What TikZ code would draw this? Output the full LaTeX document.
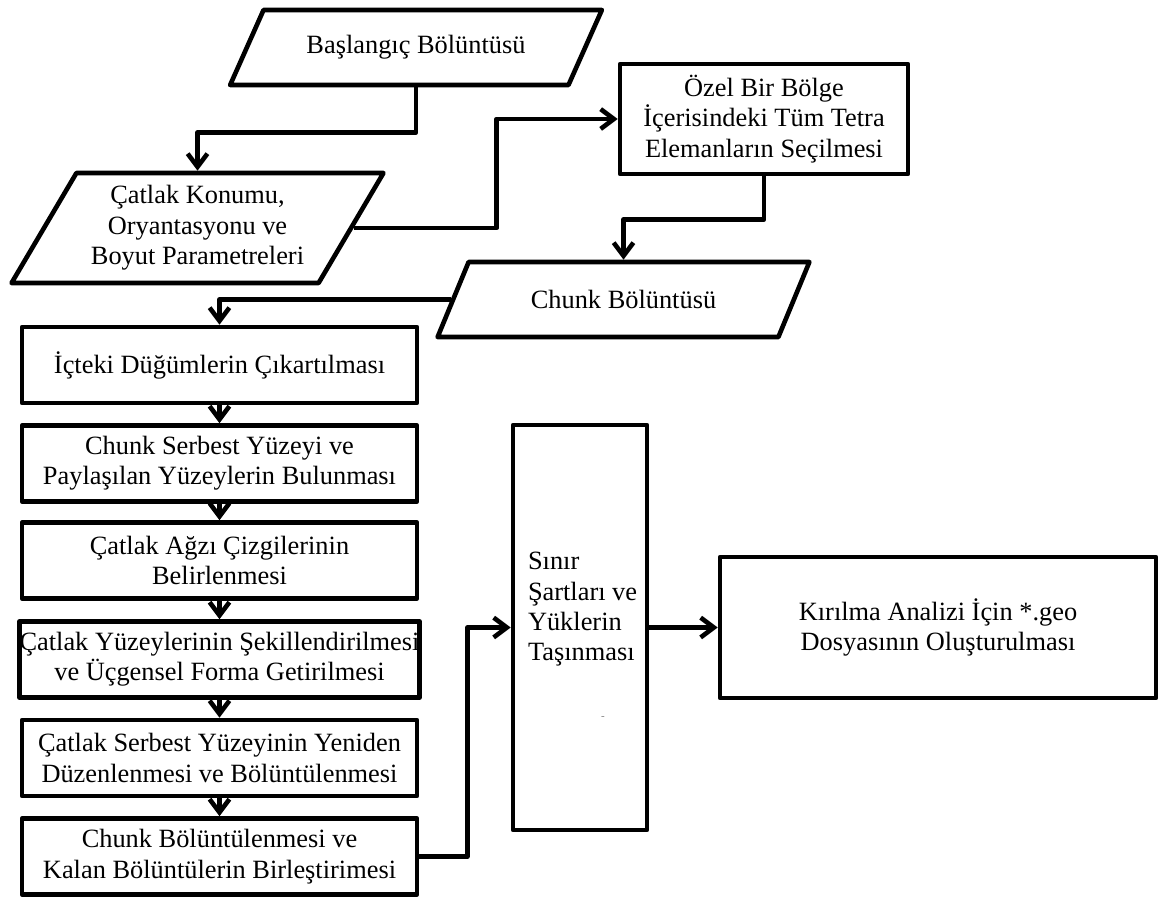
\documentclass[tikz,border=0pt]{standalone}
\usepackage{fontspec}
\setmainfont{Liberation Serif}
\usetikzlibrary{shapes.geometric, arrows.meta}

% one unit = one pixel of the layout grid
\def\u{0.455pt}

\begin{document}
\begin{tikzpicture}[
  x=\u, y=-\u,
  font=\fontsize{12}{13.8}\selectfont,
  line width=2.1pt, line join=round,
  box/.style={rectangle, draw, align=center, inner sep=0pt, minimum width=395*\u, minimum height=76*\u},
  io/.style={trapezium, trapezium left angle=45, trapezium right angle=135, trapezium stretches=true,
             draw, align=center, inner sep=0pt, minimum width=372*\u, minimum height=75*\u},
  arrow/.style={-{Straight Barb[length=6pt, width=9pt]}},
]
\useasboundingbox (0,0) rectangle (1158,898);

% ══ Column positions ══
\def\xl{219.5}

% ══ Input data ══
\node[io] (start) at (416,47.5) {Başlangıç Bölüntüsü};
\node[io, trapezium left angle=56, trapezium right angle=124, minimum height=110*\u] (crack) at (197.5,228)
  {Çatlak Konumu,\\Oryantasyonu ve\\Boyut Parametreleri};
\node[box, minimum width=288*\u, minimum height=110*\u] (region) at (764,119)
  {Özel Bir Bölge\\İçerisindeki Tüm Tetra\\Elemanların Seçilmesi};
\node[io] (chunk) at (623.5,299.5) {Chunk Bölüntüsü};

% ══ Main steps (left column) ══
\node[box] (inner)  at (\xl,365)   {İçteki Düğümlerin Çıkartılması};
\node[box] (surf)   at (\xl,463.5) {Chunk Serbest Yüzeyi ve\\Paylaşılan Yüzeylerin Bulunması};
\node[box] (mouth)  at (\xl,560.5) {Çatlak Ağzı Çizgilerinin\\Belirlenmesi};
\node[box] (shape)  at (\xl,659.5) {Çatlak Yüzeylerinin Şekillendirilmesi\\ve Üçgensel Forma Getirilmesi};
\node[box] (remesh) at (\xl,758)   {Çatlak Serbest Yüzeyinin Yeniden\\Düzenlenmesi ve Bölüntülenmesi};
\node[box] (merge)  at (\xl,856.5) {Chunk Bölüntülenmesi ve\\Kalan Bölüntülerin Birleştirimesi};

% ══ Boundary conditions and output ══
\node[box, minimum width=134*\u, minimum height=405*\u] (bc) at (580,627.5) {};
\node[align=left, anchor=west, inner sep=0pt] (bctext) at ([xshift=15*\u, yshift=18*\u]bc.west)
  {Sınır\\Şartları ve\\Yüklerin\\Taşınması};
\node[font=\tiny, gray] (dash) at ([xshift=23*\u, yshift=-90*\u]bc.center) {-};
\node[box, minimum width=436*\u, minimum height=141*\u] (geo) at (938,627.5)
  {Kırılma Analizi İçin *.geo\\Dosyasının Oluşturulması};

% ══ Connectors ══
\draw[arrow] (start.south) -- ++(0,45) -| (crack.north);
\draw[arrow] (crack.east) -- ++(143,0) |- (region.west);
\draw[arrow] (region.south) -- ++(0,43) -| (chunk.north);
\draw[arrow] (chunk.west) -| (inner.north);

\foreach \a/\b in {inner/surf, surf/mouth, mouth/shape, shape/remesh, remesh/merge}
  \draw[arrow] (\a.south) -- (\b.north);

\draw[arrow] (merge.east) -- ++(48,0) |- (bc.west);
\draw[arrow] (bc.east) -- (geo.west);

\end{tikzpicture}
\end{document}
